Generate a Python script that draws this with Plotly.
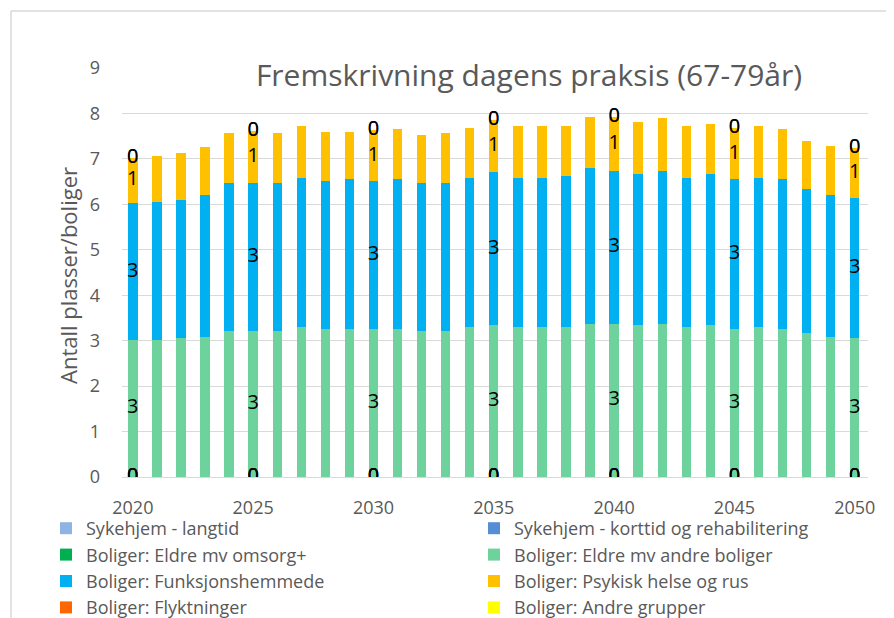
"""Stablet søylediagram: fremskrivning dagens praksis (67-79 år)."""

import plotly.graph_objects as go

# Data
years = list(range(2020, 2051))

series_names = [
    "Sykehjem - langtid",
    "Sykehjem - korttid og rehabilitering",
    "Boliger: Eldre mv omsorg+",
    "Boliger: Eldre mv andre boliger",
    "Boliger: Funksjonshemmede",
    "Boliger: Psykisk helse og rus",
    "Boliger: Flyktninger",
    "Boliger: Andre grupper",
]

sykehjem_langtid = [0.0] * 31
sykehjem_korttid = [0.0] * 31
eldre_omsorg = [0.0] * 31
eldre_andre = [
    3.02, 3.02, 3.05, 3.09, 3.22, 3.22, 3.22, 3.30, 3.26, 3.26, 3.26,
    3.26, 3.22, 3.22, 3.30, 3.34, 3.30, 3.30, 3.30, 3.37, 3.37,
    3.34, 3.37, 3.30, 3.34, 3.26, 3.30, 3.26, 3.17, 3.09, 3.05,
]
funksjonshemmede = [
    3.00, 3.03, 3.04, 3.12, 3.25, 3.25, 3.25, 3.29, 3.25, 3.29, 3.25,
    3.29, 3.25, 3.25, 3.28, 3.37, 3.28, 3.28, 3.33, 3.42, 3.37,
    3.32, 3.37, 3.28, 3.32, 3.29, 3.28, 3.29, 3.17, 3.12, 3.08,
]
psykisk_helse = [
    1.01, 1.02, 1.03, 1.06, 1.10, 1.15, 1.10, 1.14, 1.09, 1.05, 1.12,
    1.10, 1.05, 1.10, 1.10, 1.14, 1.15, 1.15, 1.10, 1.14, 1.18,
    1.15, 1.15, 1.15, 1.11, 1.12, 1.15, 1.10, 1.06, 1.07, 1.10,
]
flyktninger = [0.0] * 31
andre_grupper = [0.0] * 31

series_values = [
    sykehjem_langtid, sykehjem_korttid, eldre_omsorg, eldre_andre,
    funksjonshemmede, psykisk_helse, flyktninger, andre_grupper,
]

colors = [
    "#8db4e2", "#558ed5", "#00b050", "#6dd29b",
    "#00b0f0", "#ffc000", "#ff6600", "#ffff00",
]

label_years = [2020, 2025, 2030, 2035, 2040, 2045, 2050]

COLOR_TEXT = "#595959"
COLOR_GRID = "#d9d9d9"
FONT = "Open Sans"

# Figuren havner 8 px inn i siden (body-marg), så mål er regnet om
W, H = 886, 610
L, R, T, B = 114, 860, 60, 469
PW, PH = R - L, B - T

fig = go.Figure()

for name, vals, color in zip(series_names, series_values, colors):
    fig.add_trace(
        go.Bar(
            x=years,
            y=vals,
            name=name,
            width=0.39,
            marker=dict(color=color, line=dict(width=0)),
        )
    )

# Dataetiketter (midt i hvert segment, kun hvert 5. år)
lab_x, lab_y, lab_t = [], [], []
base = [0.0] * len(years)
for vals in series_values:
    for i, yr in enumerate(years):
        if yr in label_years:
            lab_x.append(yr)
            lab_y.append(base[i] + vals[i] / 2)
            lab_t.append(f"{vals[i]:.0f}")
    base = [b + v for b, v in zip(base, vals)]

fig.add_trace(
    go.Scatter(
        x=lab_x,
        y=lab_y,
        text=lab_t,
        mode="text",
        textposition="middle center",
        textfont=dict(family=FONT, size=20, color="#000000"),
        showlegend=False,
        hoverinfo="skip",
    )
)

border_x = (3 - L) / PW
border_y = (B - 3) / PH

fig.update_layout(
    width=W,
    height=H,
    barmode="stack",
    paper_bgcolor="white",
    plot_bgcolor="white",
    font=dict(family=FONT, color=COLOR_TEXT),
    margin=dict(l=L, r=W - R, t=T, b=H - B, autoexpand=False),
    title=dict(
        text="Fremskrivning dagens praksis (67-79år)",
        xref="container",
        yref="container",
        x=521 / W,
        y=1 - 67 / H,
        xanchor="center",
        yanchor="middle",
        font=dict(family=FONT, size=30, color=COLOR_TEXT),
    ),
    xaxis=dict(
        range=[2019.55, 2050.55],
        tickvals=label_years,
        tickfont=dict(size=18, color=COLOR_TEXT),
        showgrid=False,
        showline=True,
        linecolor=COLOR_GRID,
        linewidth=1,
        ticks="",
        ticklabelstandoff=14,
        zeroline=False,
    ),
    yaxis=dict(
        range=[0, 9],
        dtick=1,
        tickfont=dict(size=18, color=COLOR_TEXT),
        gridcolor=COLOR_GRID,
        gridwidth=1,
        zeroline=False,
        ticks="",
        ticklabelstandoff=21,
    ),
    legend=dict(
        orientation="h",
        x=(38 - L) / PW,
        xanchor="left",
        y=-(502 - B) / PH,
        yanchor="top",
        entrywidth=383,
        font=dict(size=18, color=COLOR_TEXT),
        traceorder="normal",
        bgcolor="rgba(0,0,0,0)",
    ),
    annotations=[
        dict(
            text="Antall plasser/boliger",
            xref="paper",
            yref="paper",
            x=(60 - L) / PW,
            y=(B - 267) / PH,
            textangle=-90,
            showarrow=False,
            xanchor="center",
            yanchor="middle",
            font=dict(family=FONT, size=22, color=COLOR_TEXT),
        )
    ],
    shapes=[
        dict(type="line", xref="paper", yref="paper",
             x0=border_x, x1=1.1, y0=border_y, y1=border_y,
             line=dict(color=COLOR_GRID, width=1.5)),
        dict(type="line", xref="paper", yref="paper",
             x0=border_x, x1=border_x, y0=border_y, y1=-0.5,
             line=dict(color=COLOR_GRID, width=1.5)),
    ],
)

fig.write_html("out.html")
